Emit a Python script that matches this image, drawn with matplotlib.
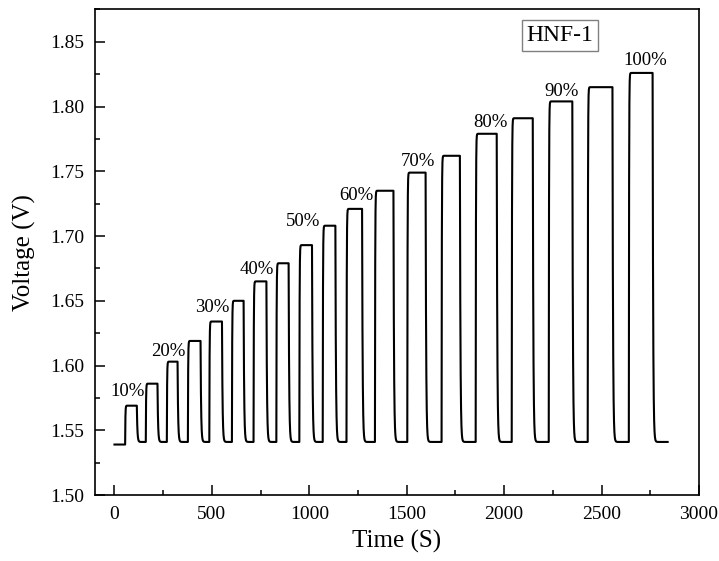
import numpy as np
import matplotlib
matplotlib.use("Agg")
import matplotlib.pyplot as plt
from matplotlib.ticker import MultipleLocator

plt.rcParams['font.family'] = ['Liberation Serif', 'DejaVu Serif']
plt.rcParams['mathtext.fontset'] = 'stix'

# tiempos de subida / bajada de cada pulso (s) y voltaje alcanzado (V)
rise_t = [55, 161, 269, 377, 487, 603, 714, 831, 949, 1069,
          1191, 1337, 1503, 1679, 1854, 2039, 2229, 2429, 2640]
fall_t = [115, 221, 324, 442, 552, 663, 780, 894, 1014, 1134,
          1271, 1432, 1597, 1773, 1962, 2147, 2350, 2556, 2762]
levels = [1.569, 1.586, 1.603, 1.619, 1.634, 1.650, 1.665, 1.679, 1.693, 1.708,
          1.721, 1.735, 1.749, 1.762, 1.779, 1.791, 1.804, 1.815, 1.826]
base_start = 1.539
base_v = 1.541
t_end = 2839

# etiquetas de concentracion
labels = ['10%', '20%', '30%', '40%', '50%', '60%', '70%', '80%', '90%', '100%']
label_t = [158, 363, 591, 821, 1057, 1331, 1648, 2016, 2385, 2839]
label_v = [1.580, 1.6105, 1.6446, 1.674, 1.711, 1.731, 1.7576, 1.788, 1.812, 1.8355]

TAU_UP = 1.2
TAU_DOWN = 2.8


def senal(t):
    # nivel objetivo en cada instante
    target = np.full_like(t, base_v)
    target[t < rise_t[0]] = base_start
    for r, f, lv in zip(rise_t, fall_t, levels):
        target[(t >= r) & (t < f)] = lv
    # respuesta de primer orden del sensor
    v = np.empty_like(t)
    v[0] = target[0]
    dt = t[1] - t[0]
    for i in range(1, len(t)):
        tau = TAU_UP if target[i] > v[i-1] else TAU_DOWN
        v[i] = v[i-1] + (target[i] - v[i-1]) * (1 - np.exp(-dt / tau))
    return v


t = np.arange(0, t_end + 0.25, 0.25)
v = senal(t)

fig = plt.figure(figsize=(7.19, 5.61), dpi=100)
ax = fig.add_axes([0.1321, 0.1176, 0.8401, 0.8655])
ax.plot(t, v, color='black', lw=1.5)

for lab, lt, lv in zip(labels, label_t, label_v):
    ax.text(lt, lv, lab, ha='right', va='center', fontsize=13.5)

ax.text(0.77, 0.946, 'HNF-1', transform=ax.transAxes, ha='center', va='center',
        fontsize=17, bbox=dict(boxstyle='square,pad=0.2', fc='white', ec='gray', lw=1.0))

ax.set_xlim(-100, 3000)
ax.set_ylim(1.50, 1.875)
ax.xaxis.set_major_locator(MultipleLocator(500))
ax.xaxis.set_minor_locator(MultipleLocator(250))
ax.yaxis.set_major_locator(MultipleLocator(0.05))
ax.yaxis.set_minor_locator(MultipleLocator(0.025))
ax.yaxis.set_major_formatter(plt.FormatStrFormatter('%.2f'))
ax.tick_params(which='both', direction='in', labelsize=14, width=1.1, pad=8)
ax.tick_params(which='major', length=7)
ax.tick_params(which='minor', length=3.5)
for s in ax.spines.values():
    s.set_linewidth(1.2)

ax.set_xlabel('Time (S)', fontsize=18, labelpad=5)
ax.set_ylabel('Voltage (V)', fontsize=18, labelpad=10)

fig.savefig('out.png', dpi=100)
